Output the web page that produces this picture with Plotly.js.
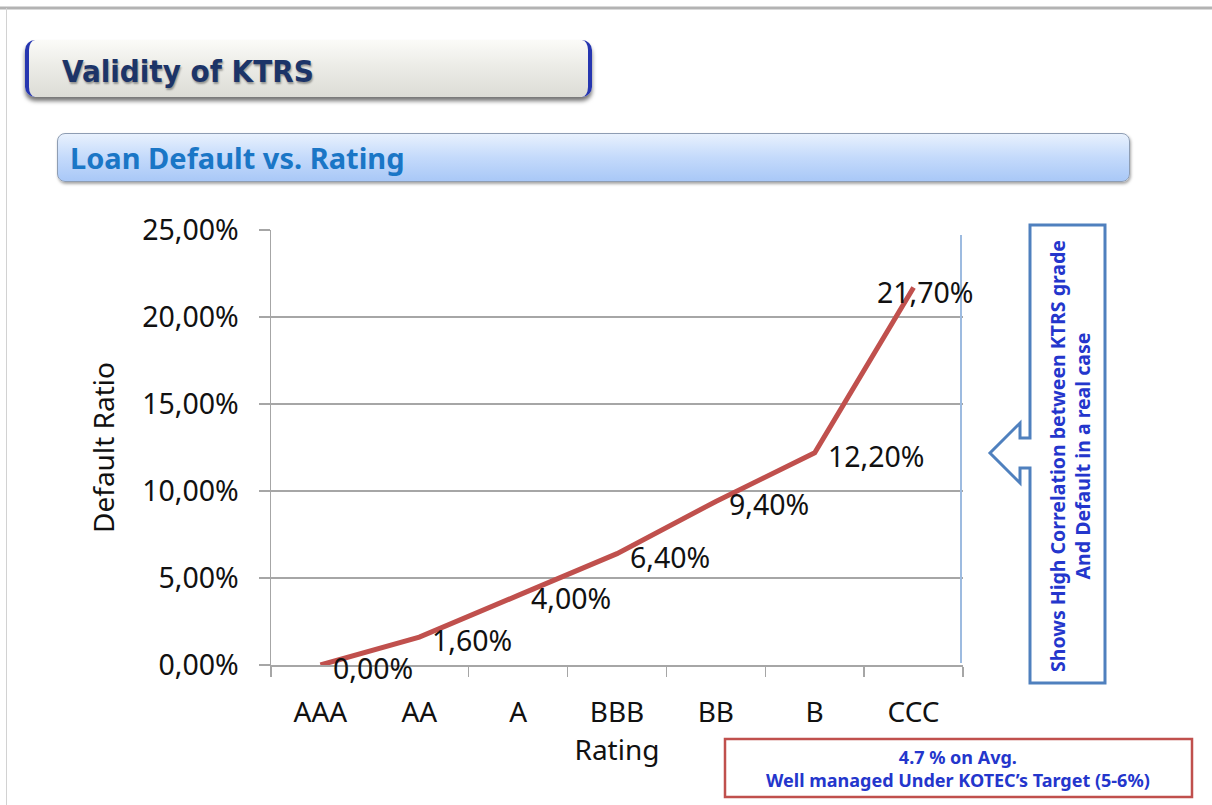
<!DOCTYPE html>
<html>
<head>
<meta charset="utf-8">
<script src="https://cdn.plot.ly/plotly-3.0.1.min.js"></script>
<style>
  html, body { margin:0; padding:0; background:#ffffff; }
  #wrap { position:relative; width:1212px; height:805px; overflow:hidden; background:#fff; }
  #chart { position:absolute; left:0; top:0; width:1212px; height:805px; z-index:2; }
  .b1 { position:absolute; left:25px; top:40px; width:559px; height:57px; border-radius:10px;
        background:linear-gradient(#fbfbf8 0%, #ececE7 45%, #dcdcd6 100%);
        border-left:4px solid #2636b0; border-right:4px solid #2636b0;
        box-shadow:0 4px 4px rgba(0,0,0,0.55); z-index:1; }
  .b2 { position:absolute; left:57px; top:133px; width:1071px; height:47px; border-radius:8px;
        background:linear-gradient(#e8f1fd 0%, #c4dafb 50%, #a9c8f7 100%);
        border:1px solid #8e9db3; box-shadow:1px 2px 3px rgba(0,0,0,0.35); z-index:1; }
</style>
</head>
<body>
<div id="wrap">
  <div class="b1"></div>
  <div class="b2"></div>
  <div id="chart"></div>
</div>
<script>
// ---- data ----
const ratings = ["AAA", "AA", "A", "BBB", "BB", "B", "CCC"];
const defaultRatio = [0.0, 1.6, 4.0, 6.4, 9.4, 12.2, 21.7];
const yTickVals = [0, 5, 10, 15, 20, 25];
const yTickText = ["0,00%", "5,00%", "10,00%", "15,00%", "20,00%", "25,00%"];
const pageTitle = "Validity of KTRS";
const sectionTitle = "Loan Default vs. Rating";
const sideNote = ["Shows High Correlation between KTRS grade", "And Default in a real case"];
const bottomNote = ["4.7 % on Avg.", "Well managed Under KOTEC\u2019s Target (5-6%)"];

// ---- pixel helpers (plot area 271..963 x 230..665) ----
const L = 271, R = 963, T = 230, B = 665;
const W = R - L, H = B - T;
const fx = p => (p - L) / W;
const fy = p => (B - p) / H;
const pathOf = pts => pts.map((p, i) => (i ? "L" : "M") + fx(p[0]).toFixed(5) + "," + fy(p[1]).toFixed(5)).join(" ") + " Z";

const FONT = "Noto Sans, Open Sans, sans-serif";
const fmt = v => v.toFixed(2).replace(".", ",") + "%";

const trace = {
  x: ratings, y: defaultRatio, type: "scatter", mode: "lines",
  line: { color: "#c0504d", width: 5 }, hoverinfo: "skip", showlegend: false
};

const annotations = [];
ratings.forEach((r, i) => {
  const last = i === ratings.length - 1;
  annotations.push({
    x: r, y: defaultRatio[i], xref: "x", yref: "y",
    text: fmt(defaultRatio[i]), showarrow: false,
    xanchor: last ? "center" : "left", yanchor: "middle",
    xshift: last ? 12 : 11, yshift: last ? -5 : -3,
    font: { family: FONT, size: 28.5, color: "#111" }
  });
});

annotations.push({
  xref: "paper", yref: "paper", x: fx(60), y: fy(71), xanchor: "left", yanchor: "middle",
  text: "<b>" + pageTitle + "</b>", showarrow: false,
  font: { family: "Liberation Sans Narrow, DejaVu Sans Condensed, Arial Narrow, sans-serif", size: 31, color: "#1c3468",
          shadow: "1px 2px 2px rgba(0,0,0,0.35)" }
});
annotations.push({
  xref: "paper", yref: "paper", x: fx(68), y: fy(157), xanchor: "left", yanchor: "middle",
  text: "<b>" + sectionTitle + "</b>", showarrow: false,
  font: { family: FONT, size: 29, color: "#1a76c6" }
});
annotations.push({
  xref: "paper", yref: "paper", x: fx(1070), y: fy(456), xanchor: "center", yanchor: "middle",
  text: "<b>" + sideNote.join("<br>") + "</b>", showarrow: false, textangle: -90,
  font: { family: FONT, size: 19.5, color: "#2436cc" }
});
annotations.push({
  xref: "paper", yref: "paper", x: fx(958), y: fy(768), xanchor: "center", yanchor: "middle",
  text: "<b>" + bottomNote.join("<br>") + "</b>", showarrow: false,
  font: { family: FONT, size: 18, color: "#2436cc" }
});

const shapes = [
  // page frame
  { type: "line", xref: "paper", yref: "paper", x0: fx(0), x1: fx(1212), y0: fy(8), y1: fy(8), line: { color: "#b3b3b3", width: 3 } },
  { type: "line", xref: "paper", yref: "paper", x0: fx(6.5), x1: fx(6.5), y0: fy(8), y1: fy(805), line: { color: "#d2d2d2", width: 1 } },
  // light blue vertical line at right of plot
  { type: "line", xref: "paper", yref: "paper", x0: fx(961), x1: fx(961), y0: fy(235), y1: fy(663), line: { color: "#9dbbe0", width: 2 } },
  // side note box with arrow
  { type: "path", xref: "paper", yref: "paper",
    path: pathOf([[1030,468],[1030,683],[1105,683],[1105,225],[1030,225],[1030,438],[1020,438],[1020,423],[990,453],[1020,483],[1020,468]]),
    fillcolor: "#ffffff", line: { color: "#4f80be", width: 3 } },
  // bottom note box
  { type: "rect", xref: "paper", yref: "paper", x0: fx(725), x1: fx(1192), y0: fy(797), y1: fy(739),
    fillcolor: "#ffffff", line: { color: "#c0504d", width: 2.5 } }
];

const layout = {
  width: 1212, height: 805,
  margin: { l: L, r: 1212 - R, t: T, b: 805 - B, pad: 0 },
  paper_bgcolor: "rgba(0,0,0,0)", plot_bgcolor: "rgba(0,0,0,0)",
  showlegend: false,
  xaxis: {
    type: "category", range: [-0.5, 6.5], fixedrange: true,
    showline: true, linecolor: "#a6a6a6", linewidth: 1.5,
    ticks: "outside", ticklen: 10, tickcolor: "#a6a6a6", tickwidth: 1.5, tickson: "boundaries",
    ticklabelstandoff: 22,
    showgrid: false, zeroline: false,
    tickfont: { family: FONT, size: 28, color: "#111" },
    title: { text: "Rating", font: { family: FONT, size: 28, color: "#111" }, standoff: 6 }
  },
  yaxis: {
    range: [0, 25], fixedrange: true,
    tickvals: yTickVals, ticktext: yTickText,
    showline: true, linecolor: "#a6a6a6", linewidth: 1.5,
    ticks: "outside", ticklen: 11, tickcolor: "#a6a6a6", tickwidth: 1.5,
    ticklabelstandoff: 14,
    showgrid: true, gridcolor: "#a6a6a6", gridwidth: 1.3, zeroline: false,
    tickfont: { family: FONT, size: 28.5, color: "#111" },
    title: { text: "Default Ratio", font: { family: FONT, size: 28, color: "#111" }, standoff: 19 }
  },
  annotations: annotations,
  shapes: shapes
};

Plotly.newPlot("chart", [trace], layout, { displayModeBar: false, staticPlot: true });
</script>
</body>
</html>
